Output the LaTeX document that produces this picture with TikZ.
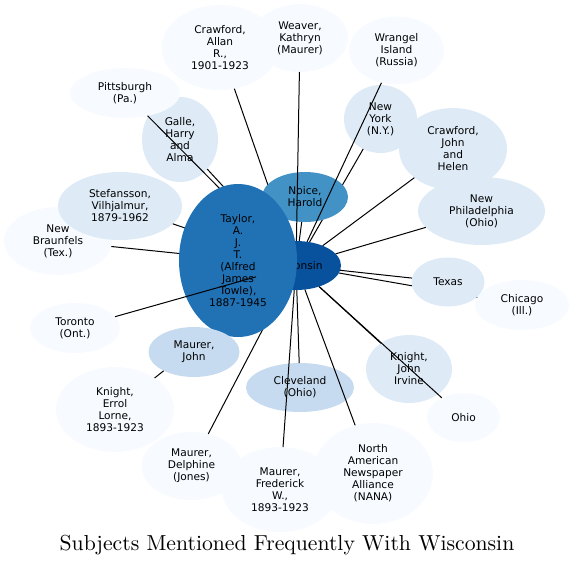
\documentclass[tikz,border=0pt]{standalone}
\usepackage{fontspec}
\newfontfamily\labelfont{DejaVu Sans}
\newfontfamily\titlefont{lmroman10-regular.otf}
\usetikzlibrary{shapes.geometric}
\definecolor{blueA}{HTML}{F7FBFF}
\definecolor{blueB}{HTML}{DEEBF7}
\definecolor{blueC}{HTML}{C6DBEF}
\definecolor{blueD}{HTML}{4292C6}
\definecolor{blueE}{HTML}{2171B5}
\definecolor{blueF}{HTML}{08519C}
\pgfdeclarelayer{lownodes}
\pgfdeclarelayer{lowedges}
\pgfdeclarelayer{topedges}
\pgfsetlayers{lownodes,lowedges,main,topedges}
\tikzset{
  subj/.style={ellipse, inner sep=0pt, outer sep=0pt, align=center, font=\labelfont\fontsize{10.6}{12}\selectfont},
  sz/.style 2 args={minimum width=#1, minimum height=#2},
  link/.style={draw=black, line width=1pt}
}

\begin{document}
\begin{tikzpicture}[x=1pt, y=-1pt]
  \useasboundingbox (0,0) rectangle (575,566);
  % hub and the darker subjects
  \node[subj, sz={90}{49}, fill=blueF] (wis) at (296,265.5) {Wisconsin};
  \node[subj, sz={86}{50}, fill=blueD] (noi) at (305,197) {Noice,\\Harold};
  \node[subj, sz={118}{153}, fill=blueE] (tay) at (238,260.5) {Taylor,\\A.\\J.\\T.\\(Alfred\\James\\Towle),\\1887-1945};
  \node[subj, sz={73}{49}, fill=blueB] (tex) at (448,282) {Texas};
  \node[subj, sz={91}{50}, fill=blueC] (mjo) at (194,352) {Maurer,\\John};

  % lighter subjects
  \begin{pgfonlayer}{lownodes}
  \node[subj, sz={108}{68}, fill=blueA] (nbr) at (58,241) {New\\Braunfels\\(Tex.)};
  \node[subj, sz={124}{68}, fill=blueB] (ste) at (120,206) {Stefansson,\\Vilhjalmur,\\1879-1962};
  \node[subj, sz={76}{85}, fill=blueB] (gal) at (180,139.5) {Galle,\\Harry\\and\\Alma};
  \node[subj, sz={110}{50}, fill=blueA] (pit) at (125,93) {Pittsburgh\\(Pa.)};
  \node[subj, sz={117}{85}, fill=blueA] (cra) at (220,47.5) {Crawford,\\Allan\\R.,\\1901-1923};
  \node[subj, sz={96}{68}, fill=blueA] (wea) at (300,38) {Weaver,\\Kathryn\\(Maurer)};
  \node[subj, sz={95}{68}, fill=blueA] (wra) at (396.5,50.5) {Wrangel\\Island\\(Russia)};
  \node[subj, sz={73}{68}, fill=blueB] (nyc) at (380.5,119) {New\\York\\(N.Y.)};
  \node[subj, sz={108}{82}, fill=blueB] (crj) at (453,149) {Crawford,\\John\\and\\Helen};
  \node[subj, sz={127}{68}, fill=blueB] (nph) at (481.5,211) {New\\Philadelphia\\(Ohio)};
  \node[subj, sz={94}{50}, fill=blueA] (chi) at (522,305) {Chicago\\(Ill.)};
  \node[subj, sz={90}{50}, fill=blueA] (tor) at (75,328) {Toronto\\(Ont.)};
  \node[subj, sz={73}{49}, fill=blueA] (ohi) at (463.5,417.5) {Ohio};
  \node[subj, sz={86}{68}, fill=blueB] (kji) at (409,369) {Knight,\\John\\Irvine};
  \node[subj, sz={118}{85}, fill=blueA] (kel) at (115,409.5) {Knight,\\Errol\\Lorne,\\1893-1923};
  \node[subj, sz={100}{68}, fill=blueA] (mde) at (191.5,466) {Maurer,\\Delphine\\(Jones)};
  \node[subj, sz={116}{85}, fill=blueA] (mfr) at (280,489.5) {Maurer,\\Frederick\\W.,\\1893-1923};
  \node[subj, sz={120}{101}, fill=blueA] (nana) at (373,473.5) {North\\American\\Newspaper\\Alliance\\(NANA)};
  \node[subj, sz={108}{49}, fill=blueC] (cle) at (300,387.5) {Cleveland\\(Ohio)};
  \end{pgfonlayer}

  % links from the hub
  \begin{pgfonlayer}{lowedges}
  \foreach \s in {tay,noi,tex,mjo,nbr,ste,gal,pit,cra,nyc,crj,nph,chi,ohi,kji,kel,mde,mfr,nana,cle}
    \draw[link] (wis) -- (\s);
  \end{pgfonlayer}
  \begin{pgfonlayer}{topedges}
  \foreach \s in {wea,wra,tor}
    \draw[link] (wis) -- (\s);
  \end{pgfonlayer}

  \node[anchor=base, font=\titlefont\fontsize{21.7}{26}\selectfont] (ttl) at (287,550) {Subjects Mentioned Frequently With Wisconsin};
\end{tikzpicture}
\end{document}
